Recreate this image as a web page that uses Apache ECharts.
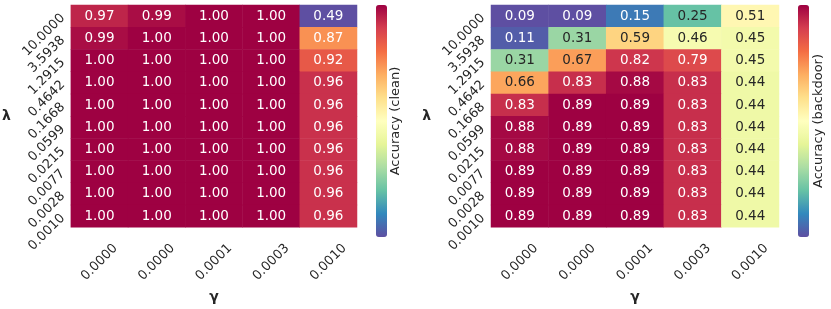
<!DOCTYPE html>
<html>
<head>
<meta charset="utf-8">
<script src="https://cdn.jsdelivr.net/npm/echarts@6/dist/echarts.min.js"></script>
<style>
html,body{margin:0;padding:0;background:#fff;}
#c{width:831px;height:309px;}
</style>
</head>
<body>
<div id="c"></div>
<script>
const gammas = ['0.0000','0.0000','0.0001','0.0003','0.0010'];
const lambdas = ['10.0000','3.5938','1.2915','0.4642','0.1668','0.0599','0.0215','0.0077','0.0028','0.0010'];
// rows top->bottom (lambda), columns gamma
const cleanAcc = [
  [0.97,0.99,1.00,1.00,0.49],
  [0.99,1.00,1.00,1.00,0.87],
  [1.00,1.00,1.00,1.00,0.92],
  [1.00,1.00,1.00,1.00,0.96],
  [1.00,1.00,1.00,1.00,0.96],
  [1.00,1.00,1.00,1.00,0.96],
  [1.00,1.00,1.00,1.00,0.96],
  [1.00,1.00,1.00,1.00,0.96],
  [1.00,1.00,1.00,1.00,0.96],
  [1.00,1.00,1.00,1.00,0.96]
];
const backdoorAcc = [
  [0.09,0.09,0.15,0.25,0.51],
  [0.11,0.31,0.59,0.46,0.45],
  [0.31,0.67,0.82,0.79,0.45],
  [0.66,0.83,0.88,0.83,0.44],
  [0.83,0.89,0.89,0.83,0.44],
  [0.88,0.89,0.89,0.83,0.44],
  [0.88,0.89,0.89,0.83,0.44],
  [0.89,0.89,0.89,0.83,0.44],
  [0.89,0.89,0.89,0.83,0.44],
  [0.89,0.89,0.89,0.83,0.44]
];

const spectralR = ['#5e4fa2','#3288bd','#66c2a5','#abdda4','#e6f598','#ffffbf','#fee08b','#fdae61','#f46d43','#d53e4f','#9e0142'];
function hex2rgb(h){return [parseInt(h.substr(1,2),16),parseInt(h.substr(3,2),16),parseInt(h.substr(5,2),16)];}
function cmap(t){
  t=Math.max(0,Math.min(1,t));
  const p=t*(spectralR.length-1), i=Math.min(Math.floor(p),spectralR.length-2), f=p-i;
  const a=hex2rgb(spectralR[i]), b=hex2rgb(spectralR[i+1]);
  return a.map((v,k)=>v+(b[k]-v)*f);
}
function lum(rgb){
  const c=rgb.map(v=>{v/=255;return v<=0.03928?v/12.92:Math.pow((v+0.055)/1.055,2.4);});
  return 0.2126*c[0]+0.7152*c[1]+0.0722*c[2];
}
function build(mat){
  const flat=mat.flat(); const mn=Math.min(...flat), mx=Math.max(...flat);
  const data=[];
  mat.forEach((row,r)=>row.forEach((v,c)=>{
    const col=cmap((v-mn)/(mx-mn));
    data.push({value:[c,r,v],label:{color: lum(col)>0.42?'#262626':'#ffffff'}});
  }));
  return {data,mn,mx};
}
const L=build(cleanAcc), R=build(backdoorAcc);
const FONT='DejaVu Sans';
const grids=[{left:69,top:5,width:288,height:232},{left:491,top:5,width:288,height:232}];
function xAx(i){return {type:'category',gridIndex:i,data:gammas,axisLine:{show:false},axisTick:{show:false},splitLine:{show:false},
  axisLabel:{rotate:45,align:'center',verticalAlign:'middle',margin:35,fontFamily:FONT,fontSize:13,color:'#262626',interval:0},
  name:'γ',nameLocation:'middle',nameGap:60,nameTextStyle:{fontFamily:FONT,fontSize:14,fontWeight:'bold',color:'#262626'}};}
function yAx(i){return {type:'category',gridIndex:i,data:lambdas,inverse:true,axisLine:{show:false},axisTick:{show:false},splitLine:{show:false},
  axisLabel:{rotate:45,margin:8,fontFamily:FONT,fontSize:13,color:'#262626',interval:0},
  name:'λ',nameLocation:'middle',nameGap:60,nameRotate:0,nameTextStyle:{fontFamily:FONT,fontSize:14,fontWeight:'bold',color:'#262626'}};}
function ser(i,d){return {type:'heatmap',xAxisIndex:i,yAxisIndex:i,data:d.data,
  label:{show:true,fontFamily:FONT,fontSize:13.5,formatter:p=>p.value[2].toFixed(2)},
  itemStyle:{borderWidth:0},emphasis:{disabled:true}};}
const chart=echarts.init(document.getElementById('c'));
chart.setOption({
  animation:false,
  grid:grids,
  xAxis:[xAx(0),xAx(1)],
  yAxis:[yAx(0),yAx(1)],
  visualMap:[
    {type:'continuous',seriesIndex:0,min:L.mn,max:L.mx,calculable:false,left:376,top:5,itemWidth:11,itemHeight:232,padding:0,text:null,showLabel:false,inRange:{color:spectralR},dimension:2},
    {type:'continuous',seriesIndex:1,min:R.mn,max:R.mx,calculable:false,left:798,top:5,itemWidth:11,itemHeight:232,padding:0,text:null,showLabel:false,inRange:{color:spectralR},dimension:2}
  ],
  graphic:[
    {type:'text',x:396,y:121,rotation:Math.PI/2,style:{text:'Accuracy (clean)',fontFamily:FONT,fontSize:13,fill:'#262626',textAlign:'center',textVerticalAlign:'middle'}},
    {type:'text',x:819,y:121,rotation:Math.PI/2,style:{text:'Accuracy (backdoor)',fontFamily:FONT,fontSize:13,fill:'#262626',textAlign:'center',textVerticalAlign:'middle'}}
  ],
  series:[ser(0,L),ser(1,R)]
});
</script>
</body>
</html>
